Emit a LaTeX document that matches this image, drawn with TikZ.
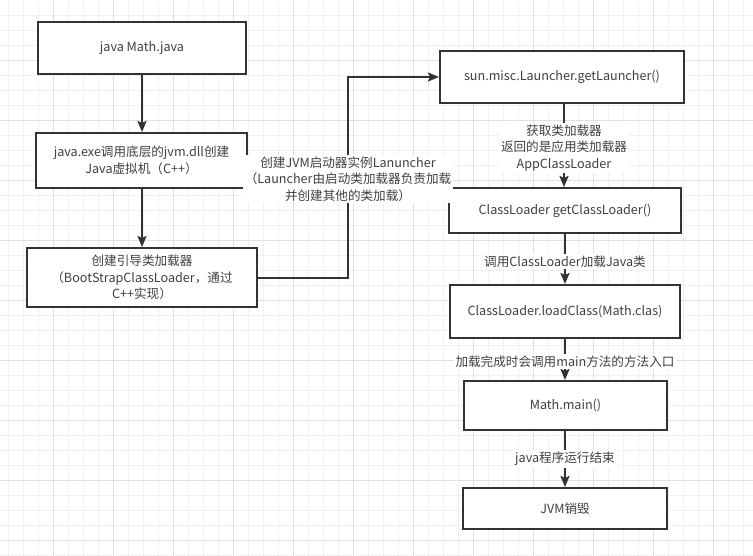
\documentclass[tikz,border=0pt]{standalone}
\usepackage{fontspec}
\setmainfont{Noto Sans CJK SC}
\usetikzlibrary{arrows.meta}
\definecolor{gridminor}{HTML}{F0F0F0}
\definecolor{gridmajor}{HTML}{E0E0E0}
\definecolor{ink}{HTML}{333333}
\definecolor{txt}{HTML}{404040}
\tikzset{
  box/.style={draw=ink, line width=2pt, fill=white, inner sep=0pt, align=center, text=txt,
    font=\fontsize{12.6}{16.5}\selectfont},
  arr/.style={draw=ink, line width=2pt, -{Stealth[length=11pt,width=9pt,inset=2pt]}},
  lbl/.style={fill=white, inner sep=2pt, align=center, text=txt, font=\fontsize{12.6}{16.5}\selectfont},
}
\begin{document}
\begin{tikzpicture}[x=1pt,y=-1pt]
\useasboundingbox (0,0) rectangle (753,555);
\fill[white] (0,0) rectangle (753,555);
% grid
\foreach \x in {8,23,...,753} \draw[gridminor, line width=1pt] (\x,0) -- (\x,555);
\foreach \y in {15,30,...,555} \draw[gridminor, line width=1pt] (0,\y) -- (753,\y);
\foreach \x in {53,113,...,753} \draw[gridmajor, line width=1pt] (\x,0) -- (\x,555);
\foreach \y in {60,120,...,555} \draw[gridmajor, line width=1pt] (0,\y) -- (753,\y);
% nodes
\node[box, minimum width=208pt, minimum height=52pt] (b1) at (142,48) {java Math.java};
\node[box, minimum width=211pt, minimum height=55pt] (b2) at (141.5,160.5) {java.exe调用底层的jvm.dll创建\\Java虚拟机（C++）};
\node[box, minimum width=230pt, minimum height=59pt] (b3) at (142,277.5) {创建引导类加载器\\（BootStrapClassLoader，通过\\C++实现）};
\node[box, minimum width=244pt, minimum height=52pt] (b4) at (562,77) {sun.misc.Launcher.getLauncher()};
\node[box, minimum width=232pt, minimum height=45pt] (b5) at (565,210.5) {ClassLoader getClassLoader()};
\node[box, minimum width=230pt, minimum height=53pt] (b6) at (565,311.5) {ClassLoader.loadClass(Math.clas)};
\node[box, minimum width=203pt, minimum height=49pt] (b7) at (565.5,405.5) {Math.main()};
\node[box, minimum width=204pt, minimum height=41pt] (b8) at (565,508.5) {JVM销毁};
\coordinate (turn) at (348,178);
% connectors
\draw[arr] (b1.south -| 142,0) -- (b2.north -| 142,0);
\draw[arr] (b2.south -| 142,0) -- (b3.north -| 142,0);
\draw[arr] (b3.east) -- (b3.east -| turn) -- (b4.west -| turn) -- (b4.west);
\node[lbl] (l0) at (348,179) {创建JVM启动器实例Lanuncher\\（Launcher由启动类加载器负责加载\\并创建其他的类加载）};
\draw[arr] (b4.south -| 564,0) -- (b5.north -| 564,0) node[lbl, pos=0.53] (l1) {获取类加载器\\返回的是应用类加载器\\AppClassLoader};
\draw[arr] (b5.south) -- (b6.north) node[lbl, pos=0.55] (l2) {调用ClassLoader加载Java类};
\draw[arr] (b6.south) -- (b7.north -| b6.south) node[lbl, pos=0.55] (l3) {加载完成时会调用main方法的方法入口};
\draw[arr] (b7.south -| b8.north) -- (b8.north) node[lbl, pos=0.5] (l4) {java程序运行结束};
\end{tikzpicture}
\end{document}
